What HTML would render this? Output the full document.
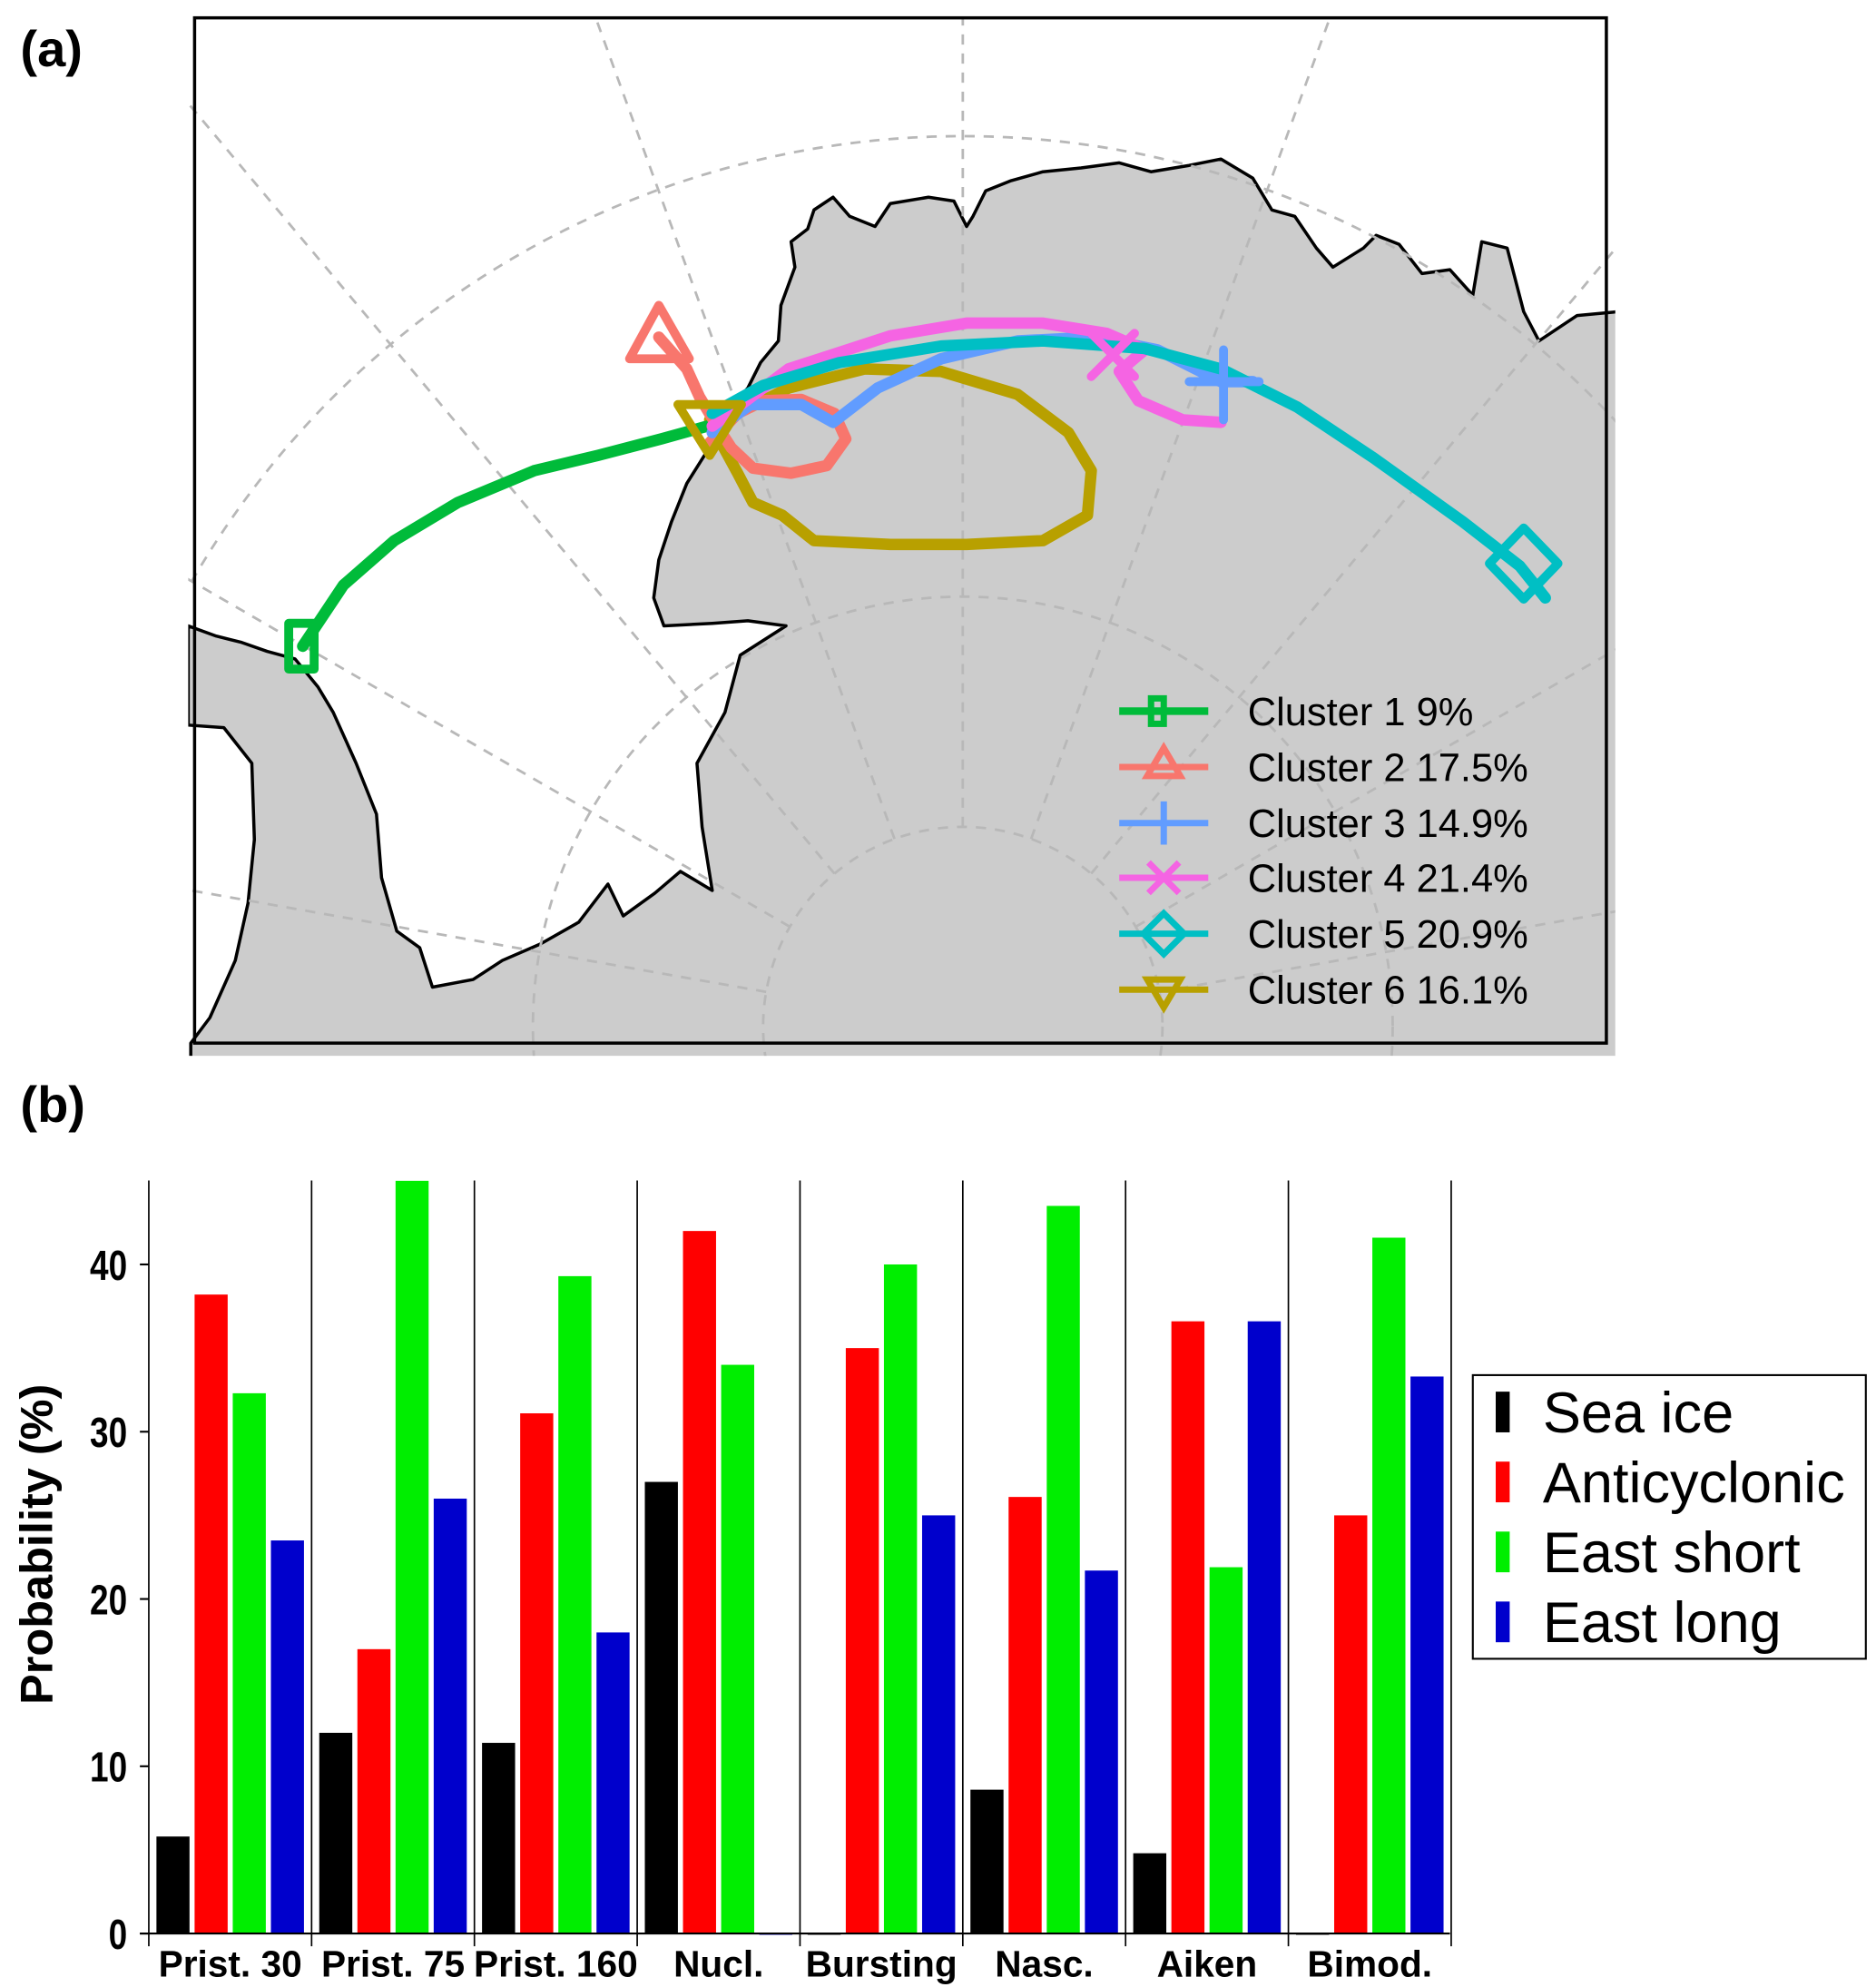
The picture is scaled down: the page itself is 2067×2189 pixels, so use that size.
<!DOCTYPE html>
<html><head><meta charset="utf-8"><style>
html,body{margin:0;padding:0;background:#fff}
svg{display:block}
text{font-family:"Liberation Sans Narrow","Liberation Sans",sans-serif}
</style></head><body>
<svg id="fig" width="2067" height="2189" viewBox="0 0 1475 1562" xmlns="http://www.w3.org/2000/svg">
<text x="16" y="52" font-size="40" font-weight="bold" font-family="Liberation Sans">(a)</text>
<text x="16" y="882" font-size="40" font-weight="bold" font-family="Liberation Sans">(b)</text>
<defs><clipPath id="mapclip"><rect x="148" y="14" width="1122" height="816"/></clipPath></defs>
<g id="map" clip-path="url(#mapclip)">
<path fill="#cccccc" stroke="#000" stroke-width="2.5" stroke-linejoin="round"
d="M1272,245 L1240,248 1210,268 1198,245 1185,195 1165,190 1158,232 1140,212 1118,215 1100,192 1082,185 1072,195 1048,210 1035,195 1018,170 1000,165 985,140 960,125 935,130 905,135 880,128 850,132 820,135 795,142 775,150 765,170 760,178 750,158 730,155 700,160 688,178 668,170 655,155 640,165 635,180 622,190 625,210 614,240 612,268 598,285 588,305 575,320 562,345 540,380 528,410 518,440 514,470 522,492 560,490 588,488 618,492 582,515 570,560 548,600 552,650 560,700 535,685 515,702 490,720 478,695 455,725 425,742 395,755 372,770 340,776 330,745 312,732 300,690 296,640 280,600 262,560 250,540 232,518 210,512 190,505 170,500 148,492 L148,570 176,572 198,600 200,660 195,710 185,755 165,800 150,820 150,832 1272,832 Z"/>
<g fill="none" stroke="#b8b8b8" stroke-width="2" stroke-dasharray="8,7">
<circle cx="757" cy="807" r="700"/><circle cx="757" cy="807" r="338"/><circle cx="757" cy="807" r="157"/>
</g>
<g id="meridians" stroke="#b8b8b8" stroke-width="2" stroke-dasharray="8,7"></g>
<g fill="none" stroke-width="9" stroke-linecap="round" stroke-linejoin="round">
<polyline stroke="#b8a000" points="558,330 568,350 580,372 592,395 615,405 640,425 700,428 760,428 820,425 855,405 858,370 840,340 800,310 740,292 680,290 620,305 590,320"/>
<polyline stroke="#00bb3a" points="238,508 270,460 310,425 360,395 420,370 470,358 520,345 556,335"/>
<polyline stroke="#f8766d" points="518,265 540,290 550,312 562,332 575,352 592,368 622,372 650,366 665,345 656,325 630,314 600,315 580,325 558,348"/>
<polyline stroke="#619cff" points="560,340 590,318 630,318 655,332 690,305 740,282 800,268 860,265 910,275 960,300 985,300"/>
<polyline stroke="#f564e3" points="560,335 620,290 700,264 760,254 820,254 870,262 900,275 880,292 895,315 930,330 960,332"/>
<polyline stroke="#00bfc4" points="560,325 600,303 660,285 740,272 820,268 900,274 960,290 1020,320 1080,360 1150,410 1195,445 1215,470"/>
<rect x="227" y="490" width="20" height="36" stroke="#00bb3a" stroke-width="7"/>
<polygon points="518,240 495,282 542,282" stroke="#f8766d" stroke-width="7"/>
<path d="M935,300 H990 M962,275 V330" stroke="#619cff" stroke-width="7"/>
<path d="M858,262 L892,296 M892,262 L858,296" stroke="#f564e3" stroke-width="7"/>
<polygon points="1198,415 1225,443 1198,471 1171,443" stroke="#00bfc4" stroke-width="7"/>
<polygon points="533,318 583,318 558,358" stroke="#b8a000" stroke-width="7"/>
</g>
<g fill="none" stroke-width="6">
<g><path d="M880,559 H950" stroke="#00bb3a"/><rect x="905" y="549" width="10" height="20" stroke="#00bb3a" stroke-width="5"/><text x="981" y="570" font-size="31" fill="#000" stroke="none">Cluster 1 9%</text></g>
<g><path d="M880,603 H950 M915,588 L902,610 928,610 Z" stroke="#f8766d" stroke-width="5"/><text x="981" y="614" font-size="31" fill="#000" stroke="none">Cluster 2 17.5%</text></g>
<g><path d="M880,647 H950 M915,630 V664" stroke="#619cff" stroke-width="5"/><text x="981" y="658" font-size="31" fill="#000" stroke="none">Cluster 3 14.9%</text></g>
<g><path d="M880,690 H950 M903,678 L927,702 M927,678 L903,702" stroke="#f564e3" stroke-width="5"/><text x="981" y="701" font-size="31" fill="#000" stroke="none">Cluster 4 21.4%</text></g>
<g><path d="M880,734 H950 M915,718 L931,734 915,750 899,734 Z" stroke="#00bfc4" stroke-width="5"/><text x="981" y="745" font-size="31" fill="#000" stroke="none">Cluster 5 20.9%</text></g>
<g><path d="M880,778 H950 M902,770 L928,770 915,792 Z" stroke="#b8a000" stroke-width="5"/><text x="981" y="789" font-size="31" fill="#000" stroke="none">Cluster 6 16.1%</text></g>
</g>
</g>
<rect x="153" y="14" width="1110" height="806" fill="none" stroke="#000" stroke-width="2.5"/>
<g id="chart"></g>
</svg>
<script>
const categories = ["Prist. 30","Prist. 75","Prist. 160","Nucl.","Bursting","Nasc.","Aiken","Bimod."];
const seaIce      = [5.8, 12, 11.4, 27, 0, 8.6, 4.8, 0];
const anticyclonic= [38.2, 17, 31.1, 42, 35, 26.1, 36.6, 25];
const eastShort   = [32.3, 45, 39.3, 34, 40, 43.5, 21.9, 41.6];
const eastLong    = [23.5, 26, 18, 0, 25, 21.7, 36.6, 33.3];
const yTicks = [0, 10, 20, 30, 40];
const seriesNames = ["Sea ice","Anticyclonic","East short","East long"];
const seriesColors = ["#000000","#ff0000","#00ee00","#0000cc"];

const NS = "http://www.w3.org/2000/svg";
function mk(tag, attrs, parent){const e=document.createElementNS(NS,tag);for(const k in attrs)e.setAttribute(k,attrs[k]);parent.appendChild(e);return e;}

const mg = document.getElementById('meridians');
for(let a=-80;a<=80;a+=20){
  const r=a*Math.PI/180, cx=757, cy=807;
  const l = mk('line',{x1:cx+157*Math.sin(r),y1:cy-157*Math.cos(r),x2:cx+1400*Math.sin(r),y2:cy-1400*Math.cos(r)},mg);
  
  
}

const chart = document.getElementById('chart');
const x0 = 117, groupW = 128, baseY = 1520, pxPerUnit = 13.15;
const y = v => baseY - v*pxPerUnit;
const gx = i => x0 + i*groupW;
const series = [seaIce, anticyclonic, eastShort, eastLong];

for(let i=0;i<=categories.length;i++){
  const l = mk('line',{x1:gx(i),x2:gx(i),y1:928,y2:1530,stroke:'#000','stroke-width':1.2},chart);
  
  
}
series.forEach((vals,s)=>{
  vals.forEach((v,i)=>{
    const b = mk('rect',{x:gx(i)+6+s*30,y:y(v),width:26,height:Math.max(v*pxPerUnit,1),fill:seriesColors[s]},chart);
    
    
  });
});
const bl = mk('line',{x1:110,x2:1140,y1:baseY,y2:baseY,stroke:'#000','stroke-width':1.5},chart);


yTicks.forEach(t=>{
  const tk = mk('line',{x1:110,x2:117,y1:y(t),y2:y(t),stroke:'#000','stroke-width':1.5},chart);
  
  
  const tl = mk('text',{x:0,y:0,'font-size':33,'font-weight':'bold','text-anchor':'end',transform:'translate(100,'+(y(t)+12)+') scale(0.8,1)'},chart);
  tl.textContent = t;
  
  
});
categories.forEach((c,i)=>{
  const t = mk('text',{x:gx(i)+64,y:1554,'font-size':29,'font-weight':'bold','text-anchor':'middle','font-family':'Liberation Sans'},chart);
  t.textContent = c;
  
  
});
const yt = mk('text',{x:0,y:0,'font-size':36,'font-weight':'bold','text-anchor':'middle','font-family':'Liberation Sans',transform:'translate(41,1214) rotate(-90)'},chart);
yt.textContent = 'Probability (%)';


const lg = mk('g',{},chart);


mk('rect',{x:1158,y:1081,width:309,height:223,fill:'#fff',stroke:'#000','stroke-width':1.5},lg);
seriesNames.forEach((n,s)=>{
  const cy = 1110 + s*55;
  const sw = mk('rect',{x:1176,y:cy-16,width:11,height:32,fill:seriesColors[s]},lg);
  
  
  const t = mk('text',{x:1213,y:cy+16,'font-size':45},lg);
  t.textContent = n;
  
  
});
</script>
</body></html>
